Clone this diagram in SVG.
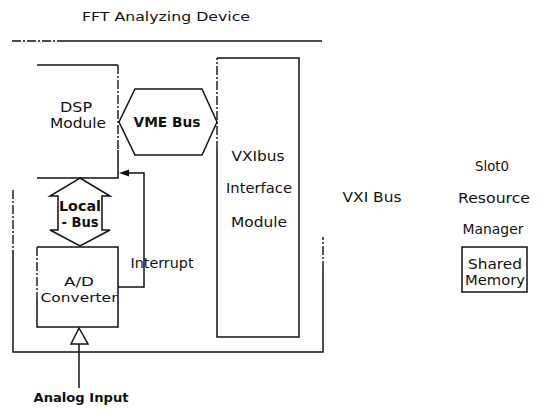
<svg xmlns="http://www.w3.org/2000/svg" width="543" height="412" viewBox="0 0 543 412">
<style>
text{font-family:"DejaVu Sans","Liberation Sans",sans-serif;fill:#111;text-anchor:middle}
.n{font-size:13.5px}
.b{font-size:13.5px;font-weight:bold}
.ln{fill:none;stroke:#111;stroke-width:1.5}
.dl{fill:none;stroke:#111;stroke-width:1.4;stroke-dasharray:9 2 2 2}
</style>
<rect width="543" height="412" fill="#fff"/>
<text x="166" y="21" class="n" style="font-size:12.5px" textLength="168" lengthAdjust="spacingAndGlyphs">FFT Analyzing Device</text>

<g id="device-frame">
<path class="dl" d="M12,41 H60"/>
<path class="ln" d="M60,41 H322"/>
<path class="dl" d="M13,190 V250"/>
<path class="ln" d="M13,250 V352 H323 V270"/>
<path class="dl" d="M323,270 V237"/>
</g>

<g id="dsp">
<path class="ln" d="M37,65 H118"/>
<path class="dl" d="M118,65 V150"/>
<path class="ln" d="M118,150 V178 H37"/>
<text x="76" y="112" class="n" textLength="32" lengthAdjust="spacingAndGlyphs">DSP</text>
<text x="78" y="128" class="n" textLength="56" lengthAdjust="spacingAndGlyphs">Module</text>
</g>

<g id="vme-bus">
<polygon class="ln" points="135,89 202,89 217,122 202,155 135,155 119,122"/>
<text x="167" y="127" class="b" style="font-size:14.5px" textLength="67" lengthAdjust="spacingAndGlyphs">VME Bus</text>
</g>

<g id="vxi-module">
<path class="dl" d="M217,150 V58"/>
<path class="ln" d="M217,58 H299 V337 H217 V150"/>
<text x="258" y="161" class="n" textLength="53" lengthAdjust="spacingAndGlyphs">VXIbus</text>
<text x="259" y="193" class="n" textLength="66" lengthAdjust="spacingAndGlyphs">Interface</text>
<text x="259" y="227" class="n" textLength="56" lengthAdjust="spacingAndGlyphs">Module</text>
</g>

<g id="local-bus">
<polygon class="ln" points="80,178 110,196 102,196 102,230 110,230 80,246 50,230 58,230 58,196 50,196"/>
<text x="80" y="211" class="b" textLength="42" lengthAdjust="spacingAndGlyphs">Local</text>
<text x="80" y="227" class="b" textLength="37" lengthAdjust="spacingAndGlyphs">- Bus</text>
</g>

<g id="ad-converter">
<path class="dl" d="M37,247 V300"/>
<path class="ln" d="M37,300 V327 H118 V247 H37"/>
<text x="79" y="286" class="n" style="font-size:12.5px" textLength="30" lengthAdjust="spacingAndGlyphs">A/D</text>
<text x="79" y="302" class="n" style="font-size:12.5px" textLength="77" lengthAdjust="spacingAndGlyphs">Converter</text>
</g>

<g id="vxi-bus">
<text x="372" y="202" class="n" textLength="59" lengthAdjust="spacingAndGlyphs">VXI Bus</text>
</g>

<g id="slot0">
<text x="492" y="171" class="n" textLength="34" lengthAdjust="spacingAndGlyphs">Slot0</text>
<text x="494" y="203" class="n" textLength="72" lengthAdjust="spacingAndGlyphs">Resource</text>
<text x="493" y="234" class="n" textLength="61" lengthAdjust="spacingAndGlyphs">Manager</text>
</g>

<g id="shared-memory">
<rect class="ln" x="462" y="247" width="65" height="45"/>
<text x="495" y="269" class="n" textLength="54" lengthAdjust="spacingAndGlyphs">Shared</text>
<text x="495" y="285" class="n" textLength="60" lengthAdjust="spacingAndGlyphs">Memory</text>
</g>

<g id="connectors">
<path class="ln" d="M118,287 H144 V173 H128"/>
<polygon points="119,173 129,169.5 129,176.5" fill="#111"/>
<text x="162" y="268" class="n" textLength="63" lengthAdjust="spacingAndGlyphs">Interrupt</text>
<path class="ln" d="M79,388 V344"/>
<polygon class="ln" points="79,328 88,344 71,344" fill="#fff"/>
<text x="81" y="402" class="b" style="font-size:12.5px" textLength="95" lengthAdjust="spacingAndGlyphs">Analog Input</text>
</g>
</svg>
